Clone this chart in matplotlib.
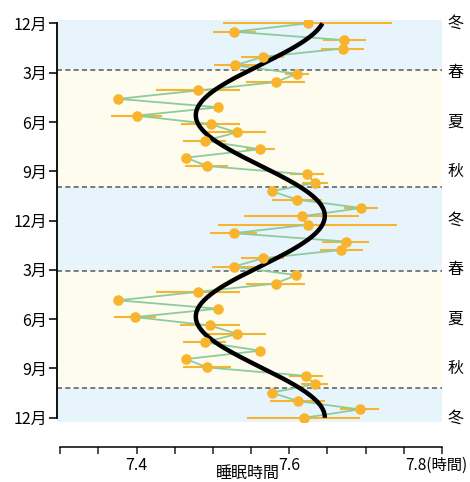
import numpy as np
import matplotlib
matplotlib.use("Agg")
import matplotlib.pyplot as plt
import matplotlib.transforms as mtransforms

plt.rcParams["font.family"] = ["Noto Sans CJK JP", "DejaVu Sans"]

# semi-monthly sleep time (hours), Dec -> Dec over two years
sleep_hours = [
    7.624, 7.528, 7.672, 7.670, 7.565, 7.529, 7.610, 7.582,
    7.480, 7.376, 7.507, 7.400, 7.497, 7.531, 7.489, 7.562,
    7.465, 7.492, 7.623, 7.634, 7.577, 7.610, 7.694, 7.616,
    7.624, 7.527, 7.674, 7.668, 7.565, 7.527, 7.609, 7.582,
    7.480, 7.376, 7.506, 7.398, 7.496, 7.532, 7.489, 7.562,
    7.465, 7.492, 7.622, 7.633, 7.577, 7.611, 7.692, 7.619,
]
sleep_err = [
    0.111, 0.028, 0.028, 0.028, 0.028, 0.028, 0.016, 0.039,
    0.055, 0.004, 0.004, 0.033, 0.039, 0.039, 0.028, 0.019,
    0.004, 0.028, 0.022, 0.017, 0.004, 0.033, 0.022, 0.075,
    0.117, 0.031, 0.031, 0.028, 0.028, 0.028, 0.008, 0.039,
    0.055, 0.004, 0.004, 0.028, 0.039, 0.038, 0.028, 0.004,
    0.004, 0.031, 0.022, 0.018, 0.004, 0.036, 0.026, 0.074,
]

# fitted seasonal cosine (period in half-month steps)
fit_mean = 7.562
fit_amp = 0.0845
fit_peak = 22.95
fit_period = 24

month_labels = ["12月", "3月", "6月", "9月", "12月", "3月", "6月", "9月", "12月"]
season_labels = ["冬", "春", "夏", "秋", "冬", "春", "夏", "秋", "冬"]

# season boundaries (between data points) and band kind
band_edges = [-0.4, 5.5, 19.5, 29.5, 43.5, 47.5]
band_kind = ["winter", "other", "winter", "other", "winter"]

x_ticks = [7.3, 7.35, 7.4, 7.45, 7.5, 7.55, 7.6, 7.65, 7.7, 7.75, 7.8]
x_ticklabels = ["", "", "7.4", "", "", "", "7.6", "", "", "", "7.8(時間)"]

n = len(sleep_hours)
idx = np.arange(n)

fig = plt.figure(figsize=(4.7, 4.82), dpi=100)
ax = fig.add_axes([57 / 470, 1 - 422 / 482, 385 / 470, 402 / 482])

# spines first: moving a spine resets its ticks
for side in ["top", "right"]:
    ax.spines[side].set_visible(False)
ax.spines["bottom"].set_position(("outward", 18))
ax.spines["bottom"].set_bounds(7.3, 7.8)
ax.spines["bottom"].set_linewidth(1.1)
ax.spines["left"].set_bounds(0, n - 1)
ax.spines["left"].set_linewidth(1.3)

band_colors = {"winter": "#E8F4FC", "other": "#FEFCEE"}
for lo, hi, kind in zip(band_edges[:-1], band_edges[1:], band_kind):
    ax.axhspan(lo, hi, color=band_colors[kind], lw=0, zorder=0)
for edge in band_edges[1:-1]:
    ax.axhline(edge, color="#666666", lw=1.2, ls=(0, (3, 2)), zorder=1)

ax.errorbar(sleep_hours, idx, xerr=sleep_err, fmt="none",
            ecolor="#F6B530", elinewidth=1.5, capsize=0, zorder=2)
ax.plot(sleep_hours, idx, color="#8ECB9C", lw=1.3, zorder=3)

t = np.linspace(0, n - 1, 400)
fit = fit_mean + fit_amp * np.cos(2 * np.pi * (t - fit_peak) / fit_period)
ax.plot(fit, t, color="black", lw=3.2, zorder=4, solid_capstyle="butt")

ax.plot(sleep_hours, idx, "o", color="#F7B42C", ms=7.6, mew=0, zorder=5)

ax.set_xlim(7.2957, 7.8)
ax.set_ylim(47.5, -0.4)

ytick_pos = np.linspace(0, n - 1, len(month_labels))
ax.set_yticks(ytick_pos)
ax.set_yticklabels(month_labels)
ax.tick_params(axis="y", length=6, width=1.3, pad=1, color="#222222", labelsize=11.5)

ax.set_xticks(x_ticks)
ax.set_xticklabels(x_ticklabels)
ax.tick_params(axis="x", length=5, width=1.1, pad=2, color="#222222", labelsize=11.5)

# last tick label sits a little left so the unit fits inside the figure
last = ax.get_xticklabels()[-1]
last.set_fontsize(11)
last.set_transform(last.get_transform()
                   + mtransforms.ScaledTranslation(-4 / 72, 0, fig.dpi_scale_trans))

trans = mtransforms.blended_transform_factory(ax.transAxes, ax.transData)
for pos, lab in zip(ytick_pos, season_labels):
    ax.text(1.034, pos, lab, transform=trans, ha="center", va="center", fontsize=11.5)

ax.set_xlabel("睡眠時間", fontsize=11.5)
ax.xaxis.set_label_coords(0.496, -0.106)

fig.savefig("out.png", dpi=100)
